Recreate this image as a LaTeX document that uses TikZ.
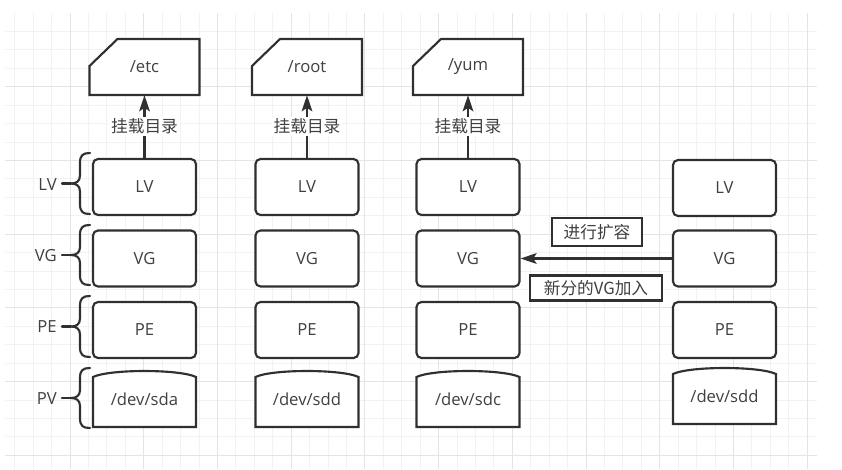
\documentclass[tikz,border=0pt]{standalone}
\usepackage{fontspec}
\setmainfont{Open Sans}
\newfontfamily\cjk{Noto Sans CJK SC}
\usetikzlibrary{arrows.meta,calc}
\definecolor{ink}{HTML}{303030}
\definecolor{txt}{HTML}{404040}
\definecolor{gmin}{HTML}{F2F2F2}
\definecolor{gmaj}{HTML}{E4E4E4}
\newcommand\folderat[3]{%
  \draw[outline] ({#2-55},95) -- ({#2-55},66) -- ({#2-27},39) -- ({#2+55},39) -- ({#2+55},95) -- cycle;
  \node[foldbox] (#1) at (#2,67) {#3};}
\newcommand\pvat[4]{%
  \draw[outline] ({#2-51.5},{#3+56}) -- ({#2-51.5},{#3+6}) .. controls ({#2-35},{#3-2}) and ({#2+35},{#3-2}) .. ({#2+51.5},{#3+6}) -- ({#2+51.5},{#3+56}) -- cycle;
  \node[shapebox] (#1) at (#2,{#3+28}) {#4};}
\newcommand\bracey[2]{%
  \pgfmathsetmacro\bm{(#1+#2)/2}%
  \draw[brace] (90,#1) .. controls (83,#1) and (80,{#1+2}) .. (80,{#1+10}) -- (80,{\bm-8}) .. controls (80,{\bm-2}) and (76,\bm) .. (71,\bm) .. controls (76,\bm) and (80,{\bm+2}) .. (80,{\bm+8}) -- (80,{#2-10}) .. controls (80,{#2-2}) and (83,#2) .. (90,#2);
  \draw[brace] (62,\bm) -- (71,\bm);}
\begin{document}
\begin{tikzpicture}[x=0.75pt,y=-0.75pt,
  every node/.style={text=txt, font=\fontsize{12.5pt}{14pt}\selectfont},
  lbox/.style={draw=ink, line width=1.6pt, rounded corners=3.75pt, fill=white, minimum width=77.25pt, minimum height=42pt, inner sep=0pt},
  shapebox/.style={minimum width=77.25pt, minimum height=42pt, inner sep=0pt},
  foldbox/.style={minimum width=82.5pt, minimum height=42pt, inner sep=0pt},
  outline/.style={draw=ink, line width=1.6pt, fill=white, line join=miter},
  arr/.style={draw=ink, line width=1.6pt, -{Stealth[length=12pt,width=8pt,inset=2.5pt]}},
  mountlab/.style={fill=white, font=\cjk\fontsize{12.5pt}{14pt}\selectfont, inner sep=1.5pt},
  tag/.style={draw=ink, line width=1.6pt, fill=white, inner sep=0pt, font=\cjk\fontsize{12.5pt}{14pt}\selectfont},
  side/.style={anchor=east, inner sep=0pt},
  brace/.style={draw=ink, line width=1.6pt, line cap=round}
]
\useasboundingbox (0,0) rectangle (842,469);
\fill[white] (0,0) rectangle (842,469);
% grid
\begin{scope}
  \clip (5,13) rectangle (817,469);
  \foreach \k in {1,...,25} \draw[gmin, line width=0.75pt] (5,{13+18.43*\k}) -- (817,{13+18.43*\k});
  \foreach \k in {-3,...,40} \draw[gmin, line width=0.75pt] ({70+18.43*\k},13) -- ({70+18.43*\k},469);
  \foreach \k in {1,...,6} \draw[gmaj, line width=0.75pt] (5,{13+73.72*\k}) -- (817,{13+73.72*\k});
  \foreach \k in {0,...,10} \draw[gmaj, line width=0.75pt] ({70+73.72*\k},13) -- ({70+73.72*\k},469);
\end{scope}
% side labels and braces
\node[side] (sLV) at (57,185) {LV};
\node[side] (sVG) at (57,256) {VG};
\node[side] (sPE) at (57,327) {PE};
\node[side] (sPV) at (57,399) {PV};
\bracey{153}{214}
\bracey{225}{285}
\bracey{296}{357}
\bracey{368}{428}
% folders
\folderat{f1}{144.5}{/etc}
\folderat{f2}{307}{/root}
\folderat{f3}{468}{/yum}
% column boxes
\node[lbox] (lv1) at (144.5,187) {LV};
\node[lbox] (vg1) at (144.5,258.5) {VG};
\node[lbox] (pe1) at (144.5,330) {PE};
\pvat{pv1}{144.5}{371}{/dev/sda}
\node[lbox] (lv2) at (307,187) {LV};
\node[lbox] (vg2) at (307,258.5) {VG};
\node[lbox] (pe2) at (307,330) {PE};
\pvat{pv2}{307}{371}{/dev/sdd}
\node[lbox] (lv3) at (468,187) {LV};
\node[lbox] (vg3) at (468,258.5) {VG};
\node[lbox] (pe3) at (468,330) {PE};
\pvat{pv3}{468}{371}{/dev/sdc}
\node[lbox] (lv4) at (724.5,188) {LV};
\node[lbox] (vg4) at (724.5,258.5) {VG};
\node[lbox] (pe4) at (724.5,330) {PE};
\pvat{pv4}{724.5}{368}{/dev/sdd}
% mount arrows
\draw[arr] (lv1.north) -- node[mountlab] {挂载目录} (lv1.north |- f1.south);
\draw[arr] (lv2.north) -- node[mountlab] {挂载目录} (lv2.north |- f2.south);
\draw[arr] (lv3.north) -- node[mountlab] {挂载目录} (lv3.north |- f3.south);
% expansion
\draw[arr] (vg4.west) -- (vg3.east);
\node[tag, minimum width=67.5pt, minimum height=21pt] (t1) at (597,232) {进行扩容};
\node[tag, minimum width=99pt, minimum height=18.75pt] (t2) at (596,288) {新分的VG加入};
\end{tikzpicture}
\end{document}
